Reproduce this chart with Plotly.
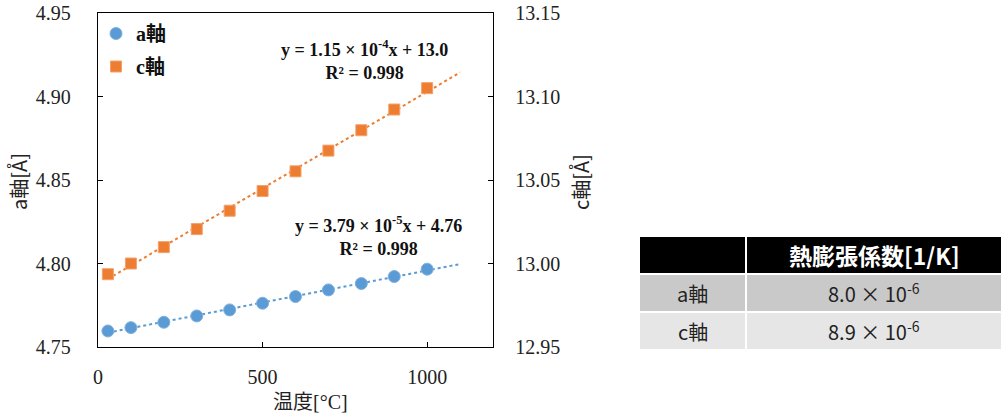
import numpy as np
import plotly.graph_objects as go

# ---- data ----
temps = [30, 100, 200, 300, 400, 500, 600, 700, 800, 900, 1000]
a_axis = [4.7596, 4.7616, 4.7648, 4.7686, 4.7722, 4.7762, 4.7802, 4.7842, 4.7880, 4.7922, 4.7966]
c_axis = [12.9936, 13.0000, 13.0098, 13.0206, 13.0316, 13.0434, 13.0552, 13.0676, 13.0798, 13.0922, 13.1050]
trend_x = [30, 1100]
eq_a = "y = 3.79 × 10<sup>-5</sup>x + 4.76<br>R² = 0.998"
eq_c = "y = 1.15 × 10<sup>-4</sup>x + 13.0<br>R² = 0.998"
table_header = ["", "熱膨張係数[1/K]"]
table_rows = ["a軸", "c軸"]
table_vals = ["8.0 × 10<sup>-6</sup>", "8.9 × 10<sup>-6</sup>"]

BLUE = "#5B9BD5"
ORANGE = "#ED7D31"
W, H = 1004, 415
SERIF = "Times New Roman, Liberation Serif, Noto Sans CJK JP, serif"
SANS = "Noto Sans CJK JP, Noto Sans, sans-serif"

def fit_line(x, y):
    k, b = np.polyfit(x, y, 1)
    return [k * t + b for t in trend_x]

fig = go.Figure()

fig.add_trace(go.Scatter(x=trend_x, y=fit_line(temps, a_axis), mode="lines",
                         line=dict(color=BLUE, width=2, dash="dot"),
                         showlegend=False, hoverinfo="skip"))
fig.add_trace(go.Scatter(x=trend_x, y=fit_line(temps, c_axis), mode="lines", yaxis="y2",
                         line=dict(color=ORANGE, width=2, dash="dot"),
                         showlegend=False, hoverinfo="skip"))
fig.add_trace(go.Scatter(x=temps, y=a_axis, mode="markers", name="<b>a軸</b>", legendgroup="a",
                         marker=dict(symbol="circle", size=12, color=BLUE,
                                     line=dict(color="#7fb1de", width=1))))
fig.add_trace(go.Scatter(x=temps, y=c_axis, mode="markers", name="<b>c軸</b>", legendgroup="c",
                         yaxis="y2",
                         marker=dict(symbol="square", size=11, color=ORANGE,
                                     line=dict(color="#f4a16c", width=1))))

x0, x1 = 98 / W, 493 / W
y0, y1 = 1 - 347 / H, 1 - 13 / H

tickfont = dict(family=SERIF, size=20, color="#222222")
fig.update_layout(
    width=W, height=H,
    margin=dict(l=0, r=0, t=0, b=0, autoexpand=False),
    paper_bgcolor="white", plot_bgcolor="white",
    xaxis=dict(domain=[x0, x1], range=[0, 1200], tickvals=[0, 500, 1000], automargin=False,
               ticks="inside", ticklen=5, tickcolor="black", showgrid=False, zeroline=False,
               showline=True, linecolor="black", linewidth=1.3, mirror=True,
               tickfont=tickfont, ticklabelstandoff=12),
    yaxis=dict(domain=[y0, y1], range=[4.75, 4.95], dtick=0.05, tickformat=".2f", automargin=False,
               ticks="inside", ticklen=5, tickcolor="black", showgrid=False, zeroline=False,
               showline=True, linecolor="black", linewidth=1.3,
               tickfont=tickfont, ticklabelstandoff=22),
    yaxis2=dict(overlaying="y", side="right", anchor="x", range=[12.95, 13.15], dtick=0.05,
                tickformat=".2f", ticks="inside", ticklen=5, tickcolor="black", automargin=False,
                showgrid=False, zeroline=False, showline=True, linecolor="black", linewidth=1.3,
                tickfont=tickfont, ticklabelstandoff=17),
    legend=dict(x=96 / W, y=1 - 14 / H, xanchor="left", yanchor="top",
                bgcolor="rgba(0,0,0,0)", tracegroupgap=4, itemwidth=30,
                font=dict(family=SERIF, size=20, color="#111111")),
    showlegend=True,
)

ann_font = dict(family=SERIF, size=18, color="#111111")
fig.add_annotation(xref="paper", yref="paper", x=364 / W, y=1 - 60 / H, text="<b>" + eq_c + "</b>",
                   showarrow=False, font=ann_font, align="center", xanchor="center", yanchor="middle")
fig.add_annotation(xref="paper", yref="paper", x=378 / W, y=1 - 236 / H, text="<b>" + eq_a + "</b>",
                   showarrow=False, font=ann_font, align="center", xanchor="center", yanchor="middle")

fig.add_annotation(xref="paper", yref="paper", x=18 / W, y=1 - 182 / H, text="a軸[Å]",
                   textangle=-90, showarrow=False, font=dict(family=SANS, size=20, color="#222222"),
                   xanchor="center", yanchor="middle")
fig.add_annotation(xref="paper", yref="paper", x=580 / W, y=1 - 182 / H, text="c軸[Å]",
                   textangle=-90, showarrow=False, font=dict(family=SANS, size=20, color="#222222"),
                   xanchor="center", yanchor="middle")
fig.add_annotation(xref="paper", yref="paper", x=310 / W, y=1 - 402 / H, text="温度[°C]",
                   showarrow=False, font=dict(family=SERIF, size=20, color="#222222"),
                   xanchor="center", yanchor="middle")

# ---- table (cells drawn as shapes, text as annotations) ----
col_edges = [(640, 745), (747, 1001)]
row_edges = [(237, 273), (275, 311), (313, 349)]
row_fills = ["#000000", "#c9c9c9", "#e6e6e6"]
grid = [table_header] + [[r, v] for r, v in zip(table_rows, table_vals)]
for ri, (ry0, ry1) in enumerate(row_edges):
    for ci, (cx0, cx1) in enumerate(col_edges):
        fig.add_shape(type="rect", xref="paper", yref="paper",
                      x0=cx0 / W, x1=cx1 / W, y0=1 - ry1 / H, y1=1 - ry0 / H,
                      fillcolor=row_fills[ri], line=dict(width=0), layer="below")
        txt = grid[ri][ci]
        if txt:
            if ri == 0:
                f = dict(family=SANS, size=23, color="white", weight="bold")
            else:
                f = dict(family=SANS, size=20, color="#222222")
            fig.add_annotation(xref="paper", yref="paper", x=(cx0 + cx1) / 2 / W,
                               y=1 - (ry0 + ry1) / 2 / H, text=txt, showarrow=False,
                               font=f, xanchor="center", yanchor="middle")

fig.write_html("out.html")
